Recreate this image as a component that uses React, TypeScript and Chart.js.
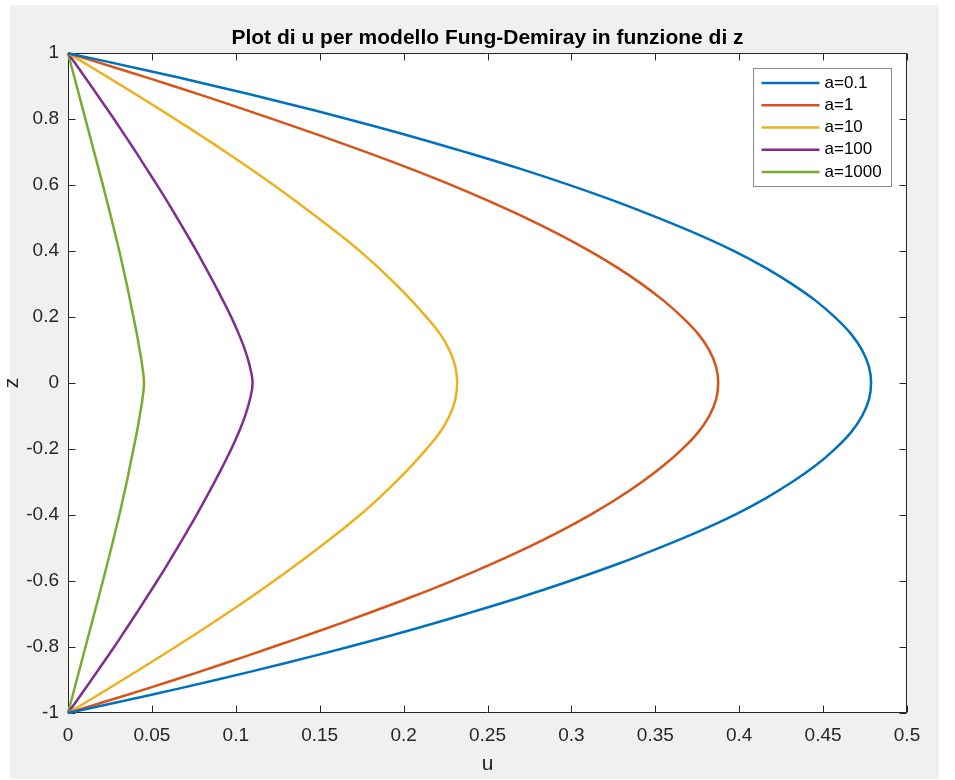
import React, { useEffect, useRef } from 'react';
import { Chart, registerables } from 'chart.js';

Chart.register(...registerables);

// ---- data ----
const titleText = 'Plot di u per modello Fung-Demiray in funzione di z';
const xAxisLabel = 'u';
const yAxisLabel = 'z';

const zValues = [
  -1, -0.95, -0.9, -0.85, -0.8, -0.75, -0.7, -0.65, -0.6, -0.55, -0.5, -0.45, -0.4, -0.35, -0.3, -0.25, -0.2, -0.15, -0.1, -0.05,
  0,
  0.05, 0.1, 0.15, 0.2, 0.25, 0.3, 0.35, 0.4, 0.45, 0.5, 0.55, 0.6, 0.65, 0.7, 0.75, 0.8, 0.85, 0.9, 0.95, 1,
];

const uA01 = [0, 0.0451, 0.088, 0.1286, 0.167, 0.2032, 0.237, 0.2692, 0.299, 0.3267, 0.352, 0.3757, 0.397, 0.4155, 0.4315, 0.4455, 0.457, 0.4665, 0.4732, 0.4773, 0.4786, 0.4773, 0.4732, 0.4665, 0.457, 0.4455, 0.4315, 0.4155, 0.397, 0.3757, 0.352, 0.3267, 0.299, 0.2692, 0.237, 0.2032, 0.167, 0.1286, 0.088, 0.0451, 0];
const uA1 = [0, 0.0321, 0.0632, 0.0931, 0.122, 0.1504, 0.1777, 0.2039, 0.2286, 0.2516, 0.2731, 0.2929, 0.311, 0.3274, 0.342, 0.3549, 0.366, 0.3754, 0.3821, 0.3862, 0.3875, 0.3862, 0.3821, 0.3754, 0.366, 0.3549, 0.342, 0.3274, 0.311, 0.2929, 0.2731, 0.2516, 0.2286, 0.2039, 0.1777, 0.1504, 0.122, 0.0931, 0.0632, 0.0321, 0];
const uA10 = [0, 0.0164, 0.0325, 0.0484, 0.064, 0.0793, 0.0942, 0.1087, 0.1227, 0.1362, 0.1492, 0.1619, 0.174, 0.185, 0.1952, 0.2048, 0.2136, 0.2216, 0.2273, 0.2308, 0.2319, 0.2308, 0.2273, 0.2216, 0.2136, 0.2048, 0.1952, 0.185, 0.174, 0.1619, 0.1492, 0.1362, 0.1227, 0.1087, 0.0942, 0.0793, 0.064, 0.0484, 0.0325, 0.0164, 0];
const uA100 = [0, 0.007, 0.0139, 0.0207, 0.0275, 0.034, 0.0405, 0.0468, 0.0531, 0.0592, 0.0651, 0.0709, 0.0766, 0.082, 0.0873, 0.0924, 0.0973, 0.1017, 0.1055, 0.1084, 0.11, 0.1084, 0.1055, 0.1017, 0.0973, 0.0924, 0.0873, 0.082, 0.0766, 0.0709, 0.0651, 0.0592, 0.0531, 0.0468, 0.0405, 0.034, 0.0275, 0.0207, 0.0139, 0.007, 0];
const uA1000 = [0, 0.0026, 0.0052, 0.0078, 0.0104, 0.013, 0.0156, 0.0182, 0.0208, 0.0233, 0.0258, 0.0282, 0.0306, 0.0328, 0.035, 0.037, 0.039, 0.041, 0.0427, 0.0443, 0.0453, 0.0443, 0.0427, 0.041, 0.039, 0.037, 0.035, 0.0328, 0.0306, 0.0282, 0.0258, 0.0233, 0.0208, 0.0182, 0.0156, 0.013, 0.0104, 0.0078, 0.0052, 0.0026, 0];

const seriesLabels = ['a=0.1', 'a=1', 'a=10', 'a=100', 'a=1000'];
const seriesValues = [uA01, uA1, uA10, uA100, uA1000];
const seriesColors = ['#0072BD', '#D95319', '#EDB120', '#7E2F8E', '#77AC30'];

const xTickValues = [0, 0.05, 0.1, 0.15, 0.2, 0.25, 0.3, 0.35, 0.4, 0.45, 0.5];
const xTickLabels = ['0', '0.05', '0.1', '0.15', '0.2', '0.25', '0.3', '0.35', '0.4', '0.45', '0.5'];
const yTickValues = [-1, -0.8, -0.6, -0.4, -0.2, 0, 0.2, 0.4, 0.6, 0.8, 1];
const yTickLabels = ['-1', '-0.8', '-0.6', '-0.4', '-0.2', '0', '0.2', '0.4', '0.6', '0.8', '1'];

const FONT = "'Liberation Sans', Arial, Helvetica, sans-serif";
const AXIS_COLOR = '#262626';

const framePlugin = {
  id: 'matlabFrame',
  beforeDraw(chart: any) {
    const { ctx, chartArea: ca, width, height } = chart;
    ctx.save();
    ctx.fillStyle = '#ffffff';
    ctx.fillRect(0, 0, width, height);
    ctx.fillStyle = '#f0f0f0';
    ctx.fillRect(10, 5, 929, 774);
    ctx.fillStyle = '#ffffff';
    ctx.fillRect(ca.left, ca.top, ca.right - ca.left, ca.bottom - ca.top);
    ctx.restore();
  },
  beforeDatasetsDraw(chart: any) {
    const { ctx, chartArea: ca, scales } = chart;
    const L = Math.round(ca.left) + 0.5;
    const R = Math.round(ca.right) - 0.5;
    const T = Math.round(ca.top) + 0.5;
    const B = Math.round(ca.bottom) - 0.5;
    const tl = 7;
    ctx.save();
    ctx.strokeStyle = AXIS_COLOR;
    ctx.lineWidth = 1;
    ctx.beginPath();
    ctx.rect(L, T, R - L, B - T);
    for (const v of xTickValues) {
      const px = Math.round(scales.x.getPixelForValue(v)) + 0.5;
      ctx.moveTo(px, B);
      ctx.lineTo(px, B - tl);
      ctx.moveTo(px, T);
      ctx.lineTo(px, T + tl);
    }
    for (const v of yTickValues) {
      const py = Math.round(scales.y.getPixelForValue(v)) + 0.5;
      ctx.moveTo(L, py);
      ctx.lineTo(L + tl, py);
      ctx.moveTo(R, py);
      ctx.lineTo(R - tl, py);
    }
    ctx.stroke();
    ctx.restore();
  },
  afterDatasetsDraw(chart: any) {
    const { ctx, chartArea: ca } = chart;
    const w = 138;
    const h = 118;
    const left = Math.round(ca.right - 16 - w) + 0.5;
    const top = Math.round(ca.top + 15) + 0.5;
    ctx.save();
    ctx.fillStyle = '#ffffff';
    ctx.fillRect(left, top, w, h);
    ctx.strokeStyle = '#8a8a8a';
    ctx.lineWidth = 1;
    ctx.strokeRect(left, top, w, h);
    ctx.font = `17px ${FONT}`;
    ctx.textBaseline = 'middle';
    ctx.textAlign = 'left';
    chart.data.datasets.forEach((ds: any, i: number) => {
      const y = top + 14.5 + i * 22.25;
      ctx.strokeStyle = ds.borderColor;
      ctx.lineWidth = 2.5;
      ctx.beginPath();
      ctx.moveTo(left + 8, y);
      ctx.lineTo(left + 66, y);
      ctx.stroke();
      ctx.fillStyle = '#000000';
      ctx.fillText(ds.label, left + 71, y);
    });
    ctx.restore();
  },
};

export default function App() {
  const canvasRef = useRef<HTMLCanvasElement | null>(null);

  useEffect(() => {
    if (!canvasRef.current) return;
    const datasets = seriesLabels.map((label, si) => ({
      label,
      data: zValues.map((z, i) => ({ x: seriesValues[si][i], y: z })),
      borderColor: seriesColors[si],
      backgroundColor: seriesColors[si],
      borderWidth: 2.5,
      pointRadius: 0,
      pointHoverRadius: 0,
      showLine: true,
      fill: false,
      tension: 0.4,
      clip: false,
    }));

    const chart = new Chart(canvasRef.current, {
      type: 'scatter',
      data: { datasets },
      options: {
        animation: false,
        responsive: false,
        devicePixelRatio: 1,
        events: [],
        layout: { padding: { left: 0, right: 48, top: 0, bottom: 0 } },
        plugins: {
          legend: { display: false },
          tooltip: { enabled: false },
          title: {
            display: true,
            text: titleText,
            fullSize: false,
            color: '#000000',
            font: { family: FONT, size: 21, weight: 'bold' },
            padding: { top: 26, bottom: 2 },
          },
        },
        scales: {
          x: {
            type: 'linear',
            position: 'bottom',
            min: 0,
            max: 0.5,
            afterBuildTicks: (scale: any) => {
              scale.ticks = xTickValues.map((v) => ({ value: v }));
            },
            afterFit: (scale: any) => {
              scale.height = 67;
            },
            grid: { display: false, drawTicks: false },
            border: { display: false },
            ticks: {
              autoSkip: false,
              maxRotation: 0,
              padding: 11,
              color: AXIS_COLOR,
              font: { family: FONT, size: 19 },
              callback: (_v: any, i: number) => xTickLabels[i],
            },
            title: {
              display: true,
              text: xAxisLabel,
              color: AXIS_COLOR,
              font: { family: FONT, size: 21 },
              padding: { top: 0, bottom: 3 },
            },
          },
          y: {
            type: 'linear',
            position: 'left',
            min: -1,
            max: 1,
            afterBuildTicks: (scale: any) => {
              scale.ticks = yTickValues.map((v) => ({ value: v }));
            },
            afterFit: (scale: any) => {
              scale.width = 68;
            },
            grid: { display: false, drawTicks: false },
            border: { display: false },
            ticks: {
              autoSkip: false,
              padding: 9,
              color: AXIS_COLOR,
              font: { family: FONT, size: 19 },
              callback: (_v: any, i: number) => yTickLabels[i],
            },
            title: {
              display: true,
              text: yAxisLabel,
              color: AXIS_COLOR,
              font: { family: FONT, size: 21 },
              padding: { top: 0, bottom: 0 },
            },
          },
        },
      },
      plugins: [framePlugin],
    } as any);

    return () => {
      chart.destroy();
    };
  }, []);

  return (
    <div style={{ position: 'fixed', left: 0, top: 0, width: 955, height: 780 }}>
      <canvas ref={canvasRef} width={955} height={780} style={{ width: 955, height: 780, display: 'block' }} />
    </div>
  );
}
